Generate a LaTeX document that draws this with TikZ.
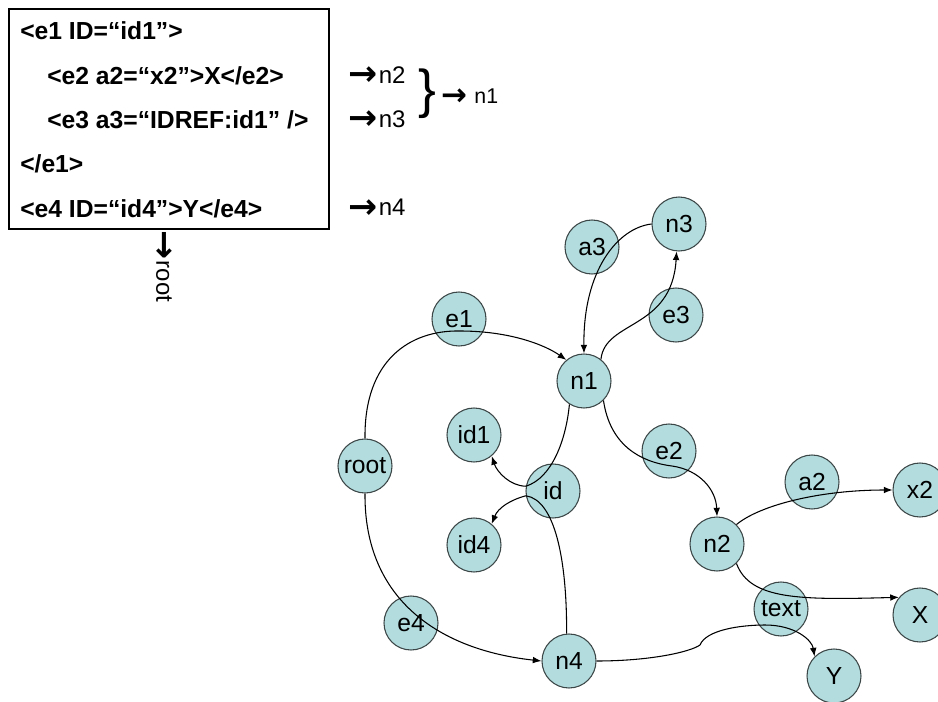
\documentclass[tikz,border=0pt]{standalone}
\usepackage{fontspec}
\setmainfont{Liberation Sans}
\newfontfamily\arrowfont[Scale=1.45]{DejaVu Sans}
\newcommand\rarr{\raisebox{-2pt}{\arrowfont\bfseries →}\kern1pt}
\usetikzlibrary{positioning,arrows.meta}
\definecolor{vertexfill}{RGB}{178,220,222}
\definecolor{vertexline}{RGB}{60,70,70}

\begin{document}
\begin{tikzpicture}[x=0.75pt,y=-0.75pt,
    vertex/.style={circle,draw=vertexline,fill=vertexfill,line width=0.8pt,
      minimum size=40.5pt,inner sep=0pt,font=\fontsize{18.5}{20}\selectfont},
    xmlline/.style={anchor=west,inner sep=0pt,font=\bfseries\fontsize{18.5}{20}\selectfont},
    maplabel/.style={anchor=west,inner sep=0pt,font=\fontsize{18}{20}\selectfont},
    link/.style={line width=0.8pt},
    >={Latex[length=6.5pt,width=5pt]}]
		\useasboundingbox (0,0) rectangle (938,702);

		% the XML document
		\node[draw,line width=0.8pt,minimum width=240pt,minimum height=165pt,inner sep=0pt] (xmlbox) at (169,119) {};
		\node[xmlline] (l1) at (20,31) {<e1 ID=“id1”>};
		\node[xmlline] (l2) at (47,76) {<e2 a2=“x2”>X</e2>};
		\node[xmlline] (l3) at (47,120) {<e3 a3=“IDREF:id1” />};
		\node[xmlline] (l4) at (20,164) {</e1>};
		\node[xmlline] (l5) at (20,209) {<e4 ID=“id4”>Y</e4>};

		\node[maplabel] (m2) at (348,76) {\rarr n2};
		\node[maplabel] (m3) at (348,120) {\rarr n3};
		\node[maplabel] (m4) at (348,209) {\rarr n4};
		\node[inner sep=0pt,font=\fontsize{40}{40}\selectfont] (brace) at (427,94) {\}};
		\node[maplabel,font=\fontsize{16}{18}\selectfont] (m1) at (441,97) {\rarr\ n1};
		\node[maplabel,rotate=-90] (mroot) at (163,230) {\rarr root};

		% the graph
		\node[vertex] (a3) at (592,247) {a3};
		\node[vertex] (n3) at (679,224) {n3};
		\node[vertex] (e1) at (459,319) {e1};
		\node[vertex] (e3) at (676,315) {e3};
		\node[vertex] (n1) at (584,381) {n1};
		\node[vertex] (id1) at (474,435) {id1};
		\node[vertex] (root) at (365,466) {root};
		\node[vertex] (id) at (553,491) {id};
		\node[vertex] (e2) at (669,451) {e2};
		\node[vertex] (a2) at (812,482) {a2};
		\node[vertex] (x2) at (920,490) {x2};
		\node[vertex] (n2) at (717,544) {n2};
		\node[vertex] (id4) at (474,545) {id4};
		\node[vertex] (txt) at (781,609) {text};
		\node[vertex] (X) at (920,615) {X};
		\node[vertex] (e4) at (411,623) {e4};
		\node[vertex] (n4) at (569,661) {n4};
		\node[vertex] (Y) at (834,676) {Y};

		\draw [link,->] (root.north) .. controls (364,360) and (410,330) .. (460,331)
		  .. controls (510,331) and (545,345) .. (n1.130);
		\draw [link,->] (root.south) .. controls (364,600) and (440,650) .. (n4.west);
		\draw [link,->] (n3.west) .. controls (618,228) and (583,270) .. (n1.north);
		\draw [link,->] (n1.52) .. controls (605,320) and (672,330) .. (n3.265);
		\draw [link,->] (n1.-45) .. controls (610,445) and (640,462) .. (672,466)
		  .. controls (700,470) and (716,490) .. (n2.north);
		\draw [link] (n1.-122) .. controls (566,440) and (552,478) .. (id.170);
		\draw [link,->] (id.170) .. controls (510,486) and (497,472) .. (id1.-50);
		\draw [link] (n4.95) .. controls (567,560) and (555,500) .. (id.190);
		\draw [link,->] (id.190) .. controls (510,500) and (498,508) .. (id4.50);
		\draw [link,->] (n2.45) .. controls (760,505) and (820,490) .. (x2.west);
		\draw [link,->] (n2.-45) .. controls (750,600) and (800,600) .. (X.140);
		\draw [link,->] (n4.east) .. controls (650,661) and (690,652) .. (700,645)
		  .. controls (706,630) and (740,625) .. (765,625)
		  .. controls (795,625) and (812,640) .. (Y.135);
	\end{tikzpicture}
\end{document}
